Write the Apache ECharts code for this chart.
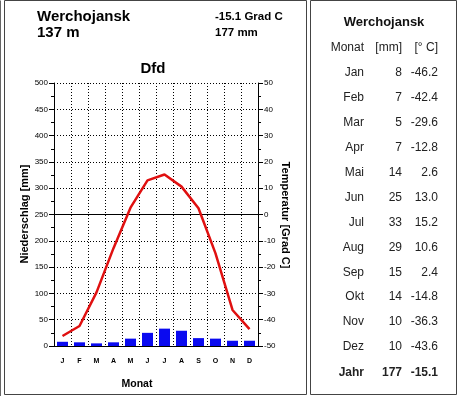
<!DOCTYPE html>
<html><head><meta charset="utf-8">
<script src="https://cdn.jsdelivr.net/npm/echarts@6/dist/echarts.min.js"></script>
<style>html,body{margin:0;padding:0;background:#fff}#c{width:458px;height:397px}</style>
</head><body><div id="c"></div>
<script>
const station = "Werchojansk";
const altitude = "137 m";
const climateClass = "Dfd";
const monthLetters = ["J","F","M","A","M","J","J","A","S","O","N","D"];
const monthNames = ["Jan","Feb","Mar","Apr","Mai","Jun","Jul","Aug","Sep","Okt","Nov","Dez"];
const precip = [8,7,5,7,14,25,33,29,15,14,10,10];
const temp = [-46.2,-42.4,-29.6,-12.8,2.6,13.0,15.2,10.6,2.4,-14.8,-36.3,-43.6];
const yearPrecip = 177;
const yearTemp = -15.1;

const FONT = "Liberation Sans, Arial, sans-serif";
const chart = echarts.init(document.getElementById('c'), null, {renderer:'canvas'});

const g = [];
// frames
g.push({type:'line', shape:{x1:0.5,y1:0.5,x2:0.5,y2:396}, style:{stroke:'#666',lineWidth:1}});
g.push({type:'rect', shape:{x:4.5,y:0.5,width:302,height:394}, style:{fill:null,stroke:'#444',lineWidth:1}});
g.push({type:'rect', shape:{x:310.5,y:0.5,width:146,height:394}, style:{fill:null,stroke:'#444',lineWidth:1}});
// header texts
g.push({type:'text', left:37, top:9, style:{text:station, font:'bold 15px '+FONT, fill:'#000'}});
g.push({type:'text', left:37, top:25, style:{text:altitude, font:'bold 15px '+FONT, fill:'#000'}});
g.push({type:'text', left:215, top:11, style:{text:yearTemp.toFixed(1)+' Grad C', font:'bold 11.5px '+FONT, fill:'#000'}});
g.push({type:'text', left:215, top:27, style:{text:yearPrecip+' mm', font:'bold 11.5px '+FONT, fill:'#000'}});
g.push({type:'text', x:153, y:69, style:{text:climateClass, font:'bold 15px '+FONT, fill:'#000', align:'center', verticalAlign:'middle'}});
g.push({type:'text', x:137, y:384, style:{text:'Monat', font:'bold 10.5px '+FONT, fill:'#000', align:'center', verticalAlign:'middle'}});
g.push({type:'text', x:25, y:214, rotation:Math.PI/2, style:{text:'Niederschlag [mm]', font:'bold 11px '+FONT, fill:'#000', align:'center', verticalAlign:'middle'}});
g.push({type:'text', x:285, y:215, rotation:-Math.PI/2, style:{text:'Temperatur [Grad C]', font:'bold 11px '+FONT, fill:'#000', align:'center', verticalAlign:'middle'}});
// table
g.push({type:'text', x:384, y:22, style:{text:station, font:'bold 13px '+FONT, fill:'#111', align:'center', verticalAlign:'middle'}});
const colM = 364, colP = 402, colT = 438;
function row(y, a, b, c, bold){
  const f = (bold?'bold ':'')+'12px '+FONT;
  g.push({type:'text', x:colM, y:y, style:{text:a, font:f, fill:'#222', align:'right', verticalAlign:'middle'}});
  g.push({type:'text', x:colP, y:y, style:{text:b, font:f, fill:'#222', align:'right', verticalAlign:'middle'}});
  g.push({type:'text', x:colT, y:y, style:{text:c, font:f, fill:'#222', align:'right', verticalAlign:'middle'}});
}
row(48, 'Monat', '[mm]', '[° C]', false);
for (let i=0;i<12;i++) row(73 + i*24.9, monthNames[i], String(precip[i]), temp[i].toFixed(1), false);
row(373, 'Jahr', String(yearPrecip), yearTemp.toFixed(1), true);

chart.setOption({
  animation:false,
  grid:{left:54, right:200, top:83, bottom:51},
  xAxis:{type:'category', data:monthLetters, boundaryGap:true,
    axisLine:{lineStyle:{color:'#000',width:1}}, axisTick:{show:false},
    axisLabel:{color:'#000', fontSize:7, fontWeight:'bold', fontFamily:FONT, margin:12},
    splitLine:{show:true, interval:0, lineStyle:{color:'#000', type:[1,2], width:1}}},
  yAxis:[
    {type:'value', min:0, max:500, interval:50, position:'left',
     axisLine:{show:true, lineStyle:{color:'#000'}},
     axisTick:{show:true, length:5, lineStyle:{color:'#000'}},
     minorTick:{show:true, splitNumber:2, length:3, lineStyle:{color:'#000'}},
     axisLabel:{color:'#000', fontSize:8, fontFamily:FONT, margin:6},
     splitLine:{show:true, lineStyle:{color:'#000', type:[1,2], width:1}}},
    {type:'value', min:-50, max:50, interval:10, position:'right',
     axisLine:{show:true, lineStyle:{color:'#000'}},
     axisTick:{show:true, length:5, lineStyle:{color:'#000'}},
     minorTick:{show:true, splitNumber:2, length:3, lineStyle:{color:'#000'}},
     axisLabel:{color:'#000', fontSize:8, fontFamily:FONT, margin:6},
     splitLine:{show:false}}
  ],
  series:[
    {type:'bar', data:precip, yAxisIndex:0, barWidth:11, itemStyle:{color:'#0a0af0'}, z:3,
     markLine:{silent:true, symbol:'none', label:{show:false}, lineStyle:{color:'#000', type:'solid', width:1},
       data:[{yAxis:250}]}},
    {type:'line', data:temp, yAxisIndex:1, showSymbol:false, symbol:'none',
     lineStyle:{color:'#e01010', width:2.5}, z:5}
  ],
  graphic:g
});
</script></body></html>
